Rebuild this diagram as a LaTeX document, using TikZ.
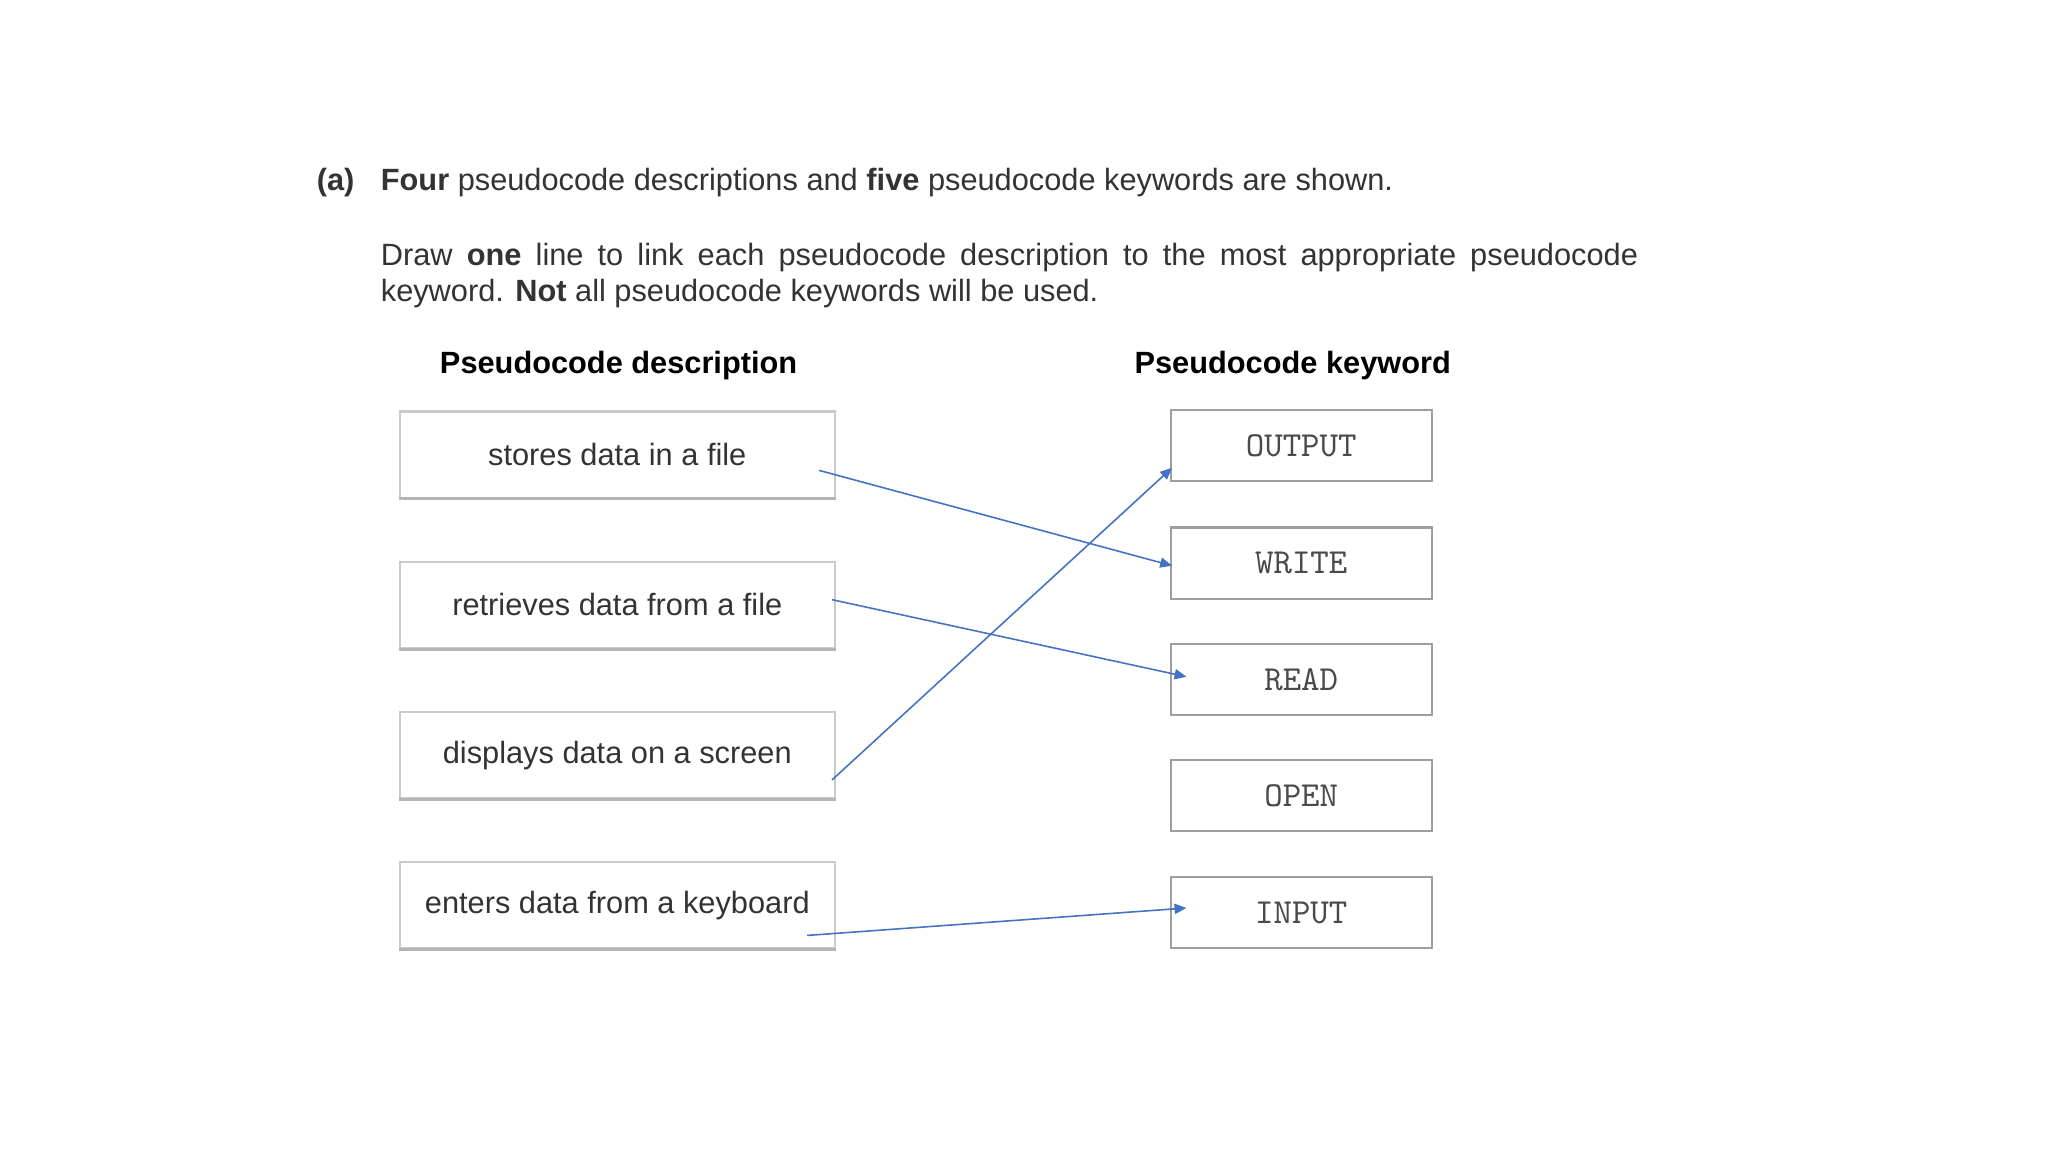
\documentclass[tikz,border=0pt]{standalone}
\usepackage{fontspec}
\setmainfont{Liberation Sans}
\usetikzlibrary{arrows.meta}
\definecolor{txt}{HTML}{333333}
\definecolor{kwtxt}{HTML}{4A4A4A}
\definecolor{lbord}{HTML}{CACACA}
\definecolor{lshadow}{HTML}{B4B4B4}
\definecolor{rbord}{HTML}{9E9E9E}
\definecolor{link}{HTML}{4472C4}
\begin{document}
\begin{tikzpicture}[x=0.013065cm,y=-0.013065cm,
  every node/.style={font=\fontsize{8.75}{10.2}\selectfont},
  para/.style={anchor=base west,inner sep=0pt,text=txt},
  head/.style={anchor=base,inner sep=0pt,text=black,font=\fontsize{8.75}{10.2}\selectfont\bfseries},
  descbox/.style={draw=lbord,line width=0.6pt,minimum width=4.3506cm,minimum height=0.8623cm,inner sep=0pt,text=txt},
  kwbox/.style={draw=rbord,line width=0.6pt,minimum width=2.613cm,minimum height=0.712cm,inner sep=0pt,text=kwtxt,font=\fontsize{10}{12}\selectfont\ttfamily},
  shadowline/.style={draw=lshadow,line width=0.9pt},
  linkline/.style={draw=link,line width=0.45pt,-{Triangle[length=3.4pt,width=2.9pt]}}]
\useasboundingbox (0,0) rectangle (1567.6,881.8);
\fill[white] (0,0) rectangle (1567.6,881.8);
% instructions
\node[para,font=\fontsize{8.75}{10.2}\selectfont\bfseries] (qa) at (242,146) {(a)};
\node[para] (l1) at (291,146) {\textbf{Four} pseudocode descriptions and \textbf{five} pseudocode keywords are shown.};
\node[para] (l2) at (291,203.5) {\makebox[12.5685cm][s]{Draw \textbf{one} line to link each pseudocode description to the most appropriate pseudocode}};
\node[para] (l3) at (291,230.5) {keyword. \textbf{Not} all pseudocode keywords will be used.};
% headings
\node[head] (hd) at (473.5,286) {Pseudocode description};
\node[head] (hk) at (989.5,286) {Pseudocode keyword};
% description boxes
\node[descbox] (d1) at (472.5,348) {stores data in a file};
\node[descbox] (d2) at (472.5,463) {retrieves data from a file};
\node[descbox] (d3) at (472.5,578) {displays data on a screen};
\node[descbox] (d4) at (472.5,693) {enters data from a keyboard};
\foreach \n in {d1,d2,d3,d4}{\draw[shadowline] (\n.south west) -- (\n.south east);}
% keyword boxes
\node[kwbox] (k1) at (996,341) {OUTPUT};
\node[kwbox] (k2) at (996,431) {WRITE};
\node[kwbox] (k3) at (996,520) {READ};
\node[kwbox] (k4) at (996,609) {OPEN};
\node[kwbox] (k5) at (996,698.5) {INPUT};
% links
\draw[linkline] ([shift={(-13,12)}]d1.east) -- ([shift={(2,2)}]k2.west);
\draw[linkline] ([shift={(-3,-4)}]d2.east) -- ([shift={(13,-2)}]k3.west);
\draw[linkline] ([shift={(-3,19)}]d3.east) -- ([shift={(2,17)}]k1.west);
\draw[linkline] ([shift={(-22,23)}]d4.east) -- ([shift={(13,-3.5)}]k5.west);
\end{tikzpicture}
\end{document}
